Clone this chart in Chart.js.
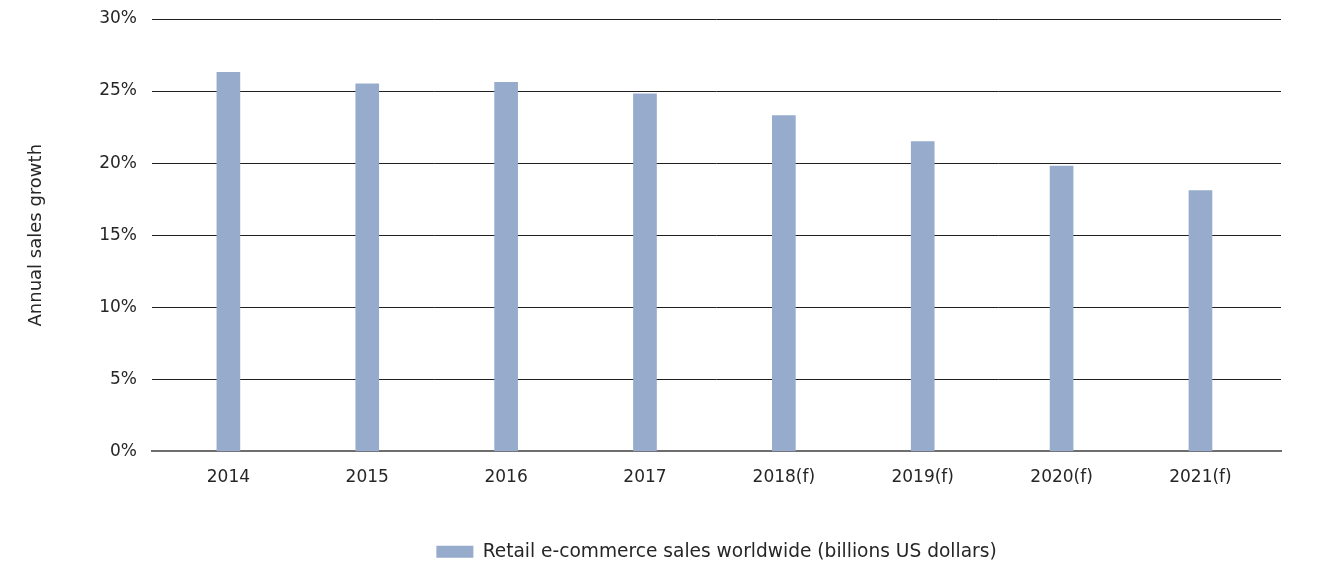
<!DOCTYPE html>
<html>
<head>
<meta charset="utf-8">
<script src="https://cdn.jsdelivr.net/npm/chart.js@4/dist/chart.umd.min.js"></script>
<style>
  html, body { margin: 0; padding: 0; background: #fff; }
  #wrap { width: 1320px; height: 562px; position: relative; }
</style>
</head>
<body>
<div id="wrap"><canvas id="growth"></canvas></div>
<script>
const years = ['2014', '2015', '2016', '2017', '2018(f)', '2019(f)', '2020(f)', '2021(f)'];
const growth = [26.3, 25.5, 25.6, 24.8, 23.3, 21.5, 19.8, 18.1];
const yTicks = [0, 5, 10, 15, 20, 25, 30];

const seriesLabel = 'Retail e-commerce sales worldwide (billions US dollars)';
const barColor = '#97abcd';
const textColor = '#262626';
const fontFamily = '"DejaVu Sans", Verdana, sans-serif';

Chart.defaults.font.family = fontFamily;
Chart.defaults.color = textColor;

// keep the legend centred under the plot instead of the whole canvas
const centerLegend = {
  id: 'centerLegend',
  afterLayout(chart) {
    const lg = chart.legend;
    if (!lg) return;
    const shift = (chart.chartArea.left + chart.chartArea.right) / 2 - (lg.left + lg.right) / 2;
    lg.left += shift;
    lg.right += shift;
  },
};

new Chart(document.getElementById('growth'), {
  type: 'bar',
  data: {
    datasets: [
      {
        label: seriesLabel,
        data: growth.map((v, i) => ({ x: i, y: v })),
        backgroundColor: barColor,
        borderWidth: 0,
        barThickness: 23,
      },
    ],
  },
  options: {
    responsive: true,
    maintainAspectRatio: false,
    animation: false,
    layout: { padding: { top: 19, right: 39, bottom: -9, left: 0 } },
    plugins: {
      tooltip: { enabled: false },
      legend: {
        position: 'bottom',
        labels: {
          boxWidth: 37,
          boxHeight: 12,
          padding: 3,
          font: { size: 18.6 },
          color: textColor,
        },
      },
    },
    scales: {
      x: {
        type: 'linear',
        offset: false,
        min: -0.55,
        max: 7.58,
        z: 1,
        afterBuildTicks: (scale) => {
          scale.ticks = years.map((_, i) => ({ value: i }));
        },
        afterFit: (scale) => {
          scale.height = 88;
        },
        ticks: {
          callback: (v) => years[v],
          font: { size: 17 },
          color: textColor,
          padding: 16,
          maxRotation: 0,
          autoSkip: false,
        },
        grid: { display: false, drawTicks: false },
        border: { display: true, color: '#6e6e6e', width: 2 },
      },
      y: {
        min: 0,
        max: 30,
        afterBuildTicks: (scale) => {
          scale.ticks = yTicks.map((v) => ({ value: v }));
        },
        afterFit: (scale) => {
          scale.width = 152;
          scale.paddingTop = 0;
          scale.paddingBottom = 0;
        },
        ticks: {
          callback: (v) => v + '%',
          font: { size: 17 },
          color: textColor,
          padding: 15,
        },
        grid: { color: '#1f1f1f', lineWidth: 1, drawTicks: false },
        border: { display: false },
        title: {
          display: true,
          text: 'Annual sales growth',
          font: { size: 18 },
          color: textColor,
          padding: { top: 26, bottom: 0 },
        },
      },
    },
  },
  plugins: [centerLegend],
});
</script>
</body>
</html>
